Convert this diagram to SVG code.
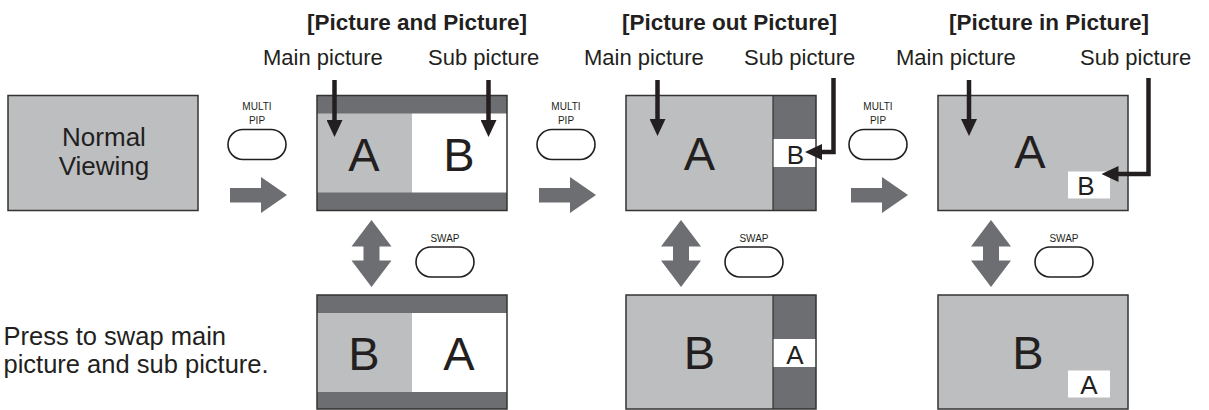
<svg xmlns="http://www.w3.org/2000/svg" width="1209" height="410" viewBox="0 0 1209 410">
<defs>
<style>
.lt{fill:#bcbec0}
.dk{fill:#6d6e71}
.wh{fill:#ffffff}
.frame{fill:none;stroke:#333333;stroke-width:1.5}
.sep{stroke:#333333;stroke-width:1.2}
.t{font-family:"Liberation Sans",Arial,Helvetica,sans-serif;fill:#231f20}
.title{font-size:22.5px;font-weight:bold;text-anchor:middle}
.lbl{font-size:22px}
.big{font-size:47px;text-anchor:middle}
.mid{font-size:26px;text-anchor:middle}
.txt{font-size:25.5px}
.blbl{font-size:10px;text-anchor:middle}
.btn{fill:#ffffff;stroke:#231f20;stroke-width:1.6}
.blk{fill:#6d6e71}
.ptr{fill:none;stroke:#231f20;stroke-width:4.5;stroke-linejoin:miter}
</style>
<marker id="ah" viewBox="0 0 17 16" refX="7" refY="8" markerWidth="17" markerHeight="16" markerUnits="userSpaceOnUse" orient="auto">
<path d="M0,0 L17,8 L0,16 Z" fill="#231f20"/>
</marker>
</defs>
<rect width="1209" height="410" fill="#ffffff"/>

<!-- Titles and labels -->
<g id="titles" class="t">
<text class="title" x="417" y="29.5">[Picture and Picture]</text>
<text class="title" x="729.5" y="29.5">[Picture out Picture]</text>
<text class="title" x="1049" y="29.5">[Picture in Picture]</text>
</g>
<g id="labels" class="t lbl">
<text x="263" y="64.5">Main picture</text>
<text x="428" y="64.5">Sub picture</text>
<text x="584" y="64.5">Main picture</text>
<text x="744" y="64.5">Sub picture</text>
<text x="896" y="64.5">Main picture</text>
<text x="1080" y="64.5">Sub picture</text>
</g>

<!-- Normal viewing -->
<g id="normal-viewing">
<rect class="lt" x="8" y="95.5" width="190" height="115"/>
<rect class="frame" x="8" y="95.5" width="190" height="115"/>
<text class="t mid" x="104" y="146">Normal</text>
<text class="t mid" x="104" y="175">Viewing</text>
</g>

<!-- MULTI PIP buttons -->
<g id="btn-multipip-1">
<text class="t blbl" x="257" y="110">MULTI</text>
<text class="t blbl" x="257" y="123.5">PIP</text>
<rect class="btn" x="228" y="129.5" width="58" height="30" rx="15"/>
</g>
<g id="btn-multipip-2">
<text class="t blbl" x="566" y="110">MULTI</text>
<text class="t blbl" x="566" y="123.5">PIP</text>
<rect class="btn" x="537" y="129.5" width="58" height="30" rx="15"/>
</g>
<g id="btn-multipip-3">
<text class="t blbl" x="878" y="110">MULTI</text>
<text class="t blbl" x="878" y="123.5">PIP</text>
<rect class="btn" x="849" y="129.5" width="58" height="30" rx="15"/>
</g>

<!-- SWAP buttons -->
<g id="btn-swap-1">
<text class="t blbl" x="445" y="241.5">SWAP</text>
<rect class="btn" x="416" y="247" width="58" height="30" rx="15"/>
</g>
<g id="btn-swap-2">
<text class="t blbl" x="754" y="241.5">SWAP</text>
<rect class="btn" x="725" y="247" width="58" height="30" rx="15"/>
</g>
<g id="btn-swap-3">
<text class="t blbl" x="1064" y="241.5">SWAP</text>
<rect class="btn" x="1035" y="247" width="58" height="30" rx="15"/>
</g>

<!-- Picture and Picture (top) -->
<g id="pap-top">
<rect class="dk" x="317" y="95.5" width="190" height="115"/>
<rect class="lt" x="317" y="113.5" width="95" height="79"/>
<rect class="wh" x="412" y="113.5" width="95" height="79"/>
<rect class="frame" x="317" y="95.5" width="190" height="115"/>
<text class="t big" x="364" y="171">A</text>
<text class="t big" x="459" y="171">B</text>
</g>

<!-- Picture and Picture (swapped) -->
<g id="pap-bottom">
<rect class="dk" x="317" y="295" width="190" height="114"/>
<rect class="lt" x="317" y="313" width="95" height="79"/>
<rect class="wh" x="412" y="313" width="95" height="79"/>
<rect class="frame" x="317" y="295" width="190" height="114"/>
<text class="t big" x="364" y="370">B</text>
<text class="t big" x="459" y="370">A</text>
</g>

<!-- Picture out Picture (top) -->
<g id="pop-top">
<rect class="lt" x="626" y="95.5" width="147" height="115"/>
<rect class="dk" x="773" y="95.5" width="43" height="115"/>
<rect class="wh" x="773" y="139" width="43" height="28"/>
<line class="sep" x1="773" y1="95.5" x2="773" y2="210.5"/>
<rect class="frame" x="626" y="95.5" width="190" height="115"/>
<text class="t big" x="699.5" y="170">A</text>
<text class="t mid" x="795.5" y="163.5">B</text>
</g>

<!-- Picture out Picture (swapped) -->
<g id="pop-bottom">
<rect class="lt" x="626" y="295" width="147" height="114"/>
<rect class="dk" x="773" y="295" width="43" height="114"/>
<rect class="wh" x="773" y="339" width="43" height="28"/>
<line class="sep" x1="773" y1="295" x2="773" y2="409"/>
<rect class="frame" x="626" y="295" width="190" height="114"/>
<text class="t big" x="699.5" y="369">B</text>
<text class="t mid" x="795" y="363.5">A</text>
</g>

<!-- Picture in Picture (top) -->
<g id="pip-top">
<rect class="lt" x="938" y="95.5" width="190" height="115"/>
<rect class="wh" x="1068" y="171.5" width="42" height="27"/>
<rect class="frame" x="938" y="95.5" width="190" height="115"/>
<text class="t big" x="1030" y="168">A</text>
<text class="t mid" x="1086" y="195">B</text>
</g>

<!-- Picture in Picture (swapped) -->
<g id="pip-bottom">
<rect class="lt" x="938" y="295" width="190" height="114"/>
<rect class="wh" x="1068" y="370.5" width="42" height="27"/>
<rect class="frame" x="938" y="295" width="190" height="114"/>
<text class="t big" x="1028" y="369">B</text>
<text class="t mid" x="1089" y="394">A</text>
</g>

<!-- Explanation text -->
<g id="swap-note" class="t txt">
<text x="3.5" y="344.5">Press to swap main</text>
<text x="3.5" y="373">picture and sub picture.</text>
</g>

<!-- Connectors -->
<g id="connectors">
<path class="blk" d="M230,188 H261 V177 L287,195 L261,213 V202.5 H230 Z"/>
<path class="blk" d="M539,188 H570 V177 L596,195 L570,213 V202.5 H539 Z"/>
<path class="blk" d="M851,188 H882 V177 L908,195 L882,213 V202.5 H851 Z"/>
<path class="blk" d="M371.5,220 L391.5,246.5 H379.5 V260.5 H391.5 L371.5,287 L351.5,260.5 H363.5 V246.5 H351.5 Z"/>
<path class="blk" d="M681,220 L701,246.5 H689 V260.5 H701 L681,287 L661,260.5 H673 V246.5 H661 Z"/>
<path class="blk" d="M991,220 L1011,246.5 H999 V260.5 H1011 L991,287 L971,260.5 H983 V246.5 H971 Z"/>
<path class="ptr" d="M334.5,80 V127" marker-end="url(#ah)"/>
<path class="ptr" d="M488.5,80 V127" marker-end="url(#ah)"/>
<path class="ptr" d="M657.5,80 V126" marker-end="url(#ah)"/>
<path class="ptr" d="M833.5,78 V152 H815" marker-end="url(#ah)"/>
<path class="ptr" d="M969,80 V126" marker-end="url(#ah)"/>
<path class="ptr" d="M1148.5,78 V174 H1111.5" marker-end="url(#ah)"/>
</g>
</svg>
